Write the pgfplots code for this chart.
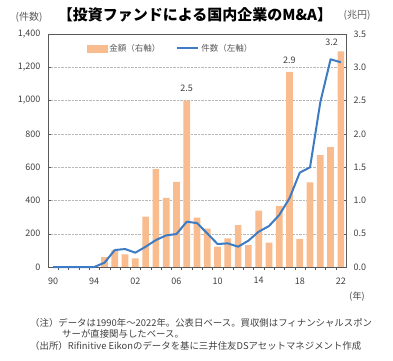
\documentclass[border=0pt]{standalone}
\usepackage{fontspec}
\setmainfont{Noto Sans CJK JP}
\usepackage{pgfplots}
\pgfplotsset{compat=1.18}
\definecolor{barc}{HTML}{F8BC8E}
\definecolor{linec}{HTML}{3D7CC4}
\definecolor{txt}{HTML}{404040}
\definecolor{axc}{HTML}{595959}
\begin{document}
\begin{tikzpicture}
\useasboundingbox (0pt,0pt) rectangle (393pt,360pt);
\begin{axis}[at={(48pt,93pt)}, anchor=south west, scale only axis,
  width=298pt, height=233pt,
  xmin=-0.5, xmax=28.5, ymin=0, ymax=3.5,
  axis line style={axc, line width=0.8pt},
  ytick={0,0.5,...,3.5},
  yticklabels={0.0,0.5,1.0,1.5,2.0,2.5,3.0,3.5},
  yticklabel pos=right, ytick pos=right,
  ymajorgrids, grid style={densely dotted, gray!55},
  xtick={0,4,...,28},
  xticklabels={90,94,02,06,10,14,18,22},
  xtick pos=bottom,
  major x tick style={draw=none},
  minor xtick={0.5,1.5,...,27.5},
  minor tick length=3pt, major tick length=3pt,
  tick style={axc},
  tick label style={font=\fontsize{9}{9}\selectfont, text=txt},
  xticklabel style={yshift=-4pt},
  yticklabel style={xshift=4pt},
  ybar, bar width=6.7pt, bar shift=0pt,
  clip=false]
\addplot[fill=barc, draw=none] coordinates {
(0,0)(1,0)(2,0)(3,0)(4,0)(5,0.15)(6,0.255)(7,0.19)(8,0.13)(9,0.755)
(10,1.47)(11,1.04)(12,1.28)(13,2.5)(14,0.74)(15,0.575)(16,0.305)(17,0.43)
(18,0.63)(19,0.33)(20,0.846)(21,0.365)(22,0.92)(23,2.93)(24,0.42)(25,1.27)
(26,1.68)(27,1.80)(28,3.24)};
\node[font=\fontsize{9}{9}\selectfont, text=txt] at (axis cs:13,2.69) {2.5};
\node[font=\fontsize{9}{9}\selectfont, text=txt] at (axis cs:23,3.11) {2.9};
\node[font=\fontsize{9}{9}\selectfont, text=txt] at (axis cs:27.1,3.38) {3.2};
\end{axis}
\begin{axis}[at={(48pt,93pt)}, anchor=south west, scale only axis,
  width=298pt, height=233pt,
  xmin=-0.5, xmax=28.5, ymin=0, ymax=1400,
  xtick=\empty,
  axis line style={axc, line width=0.8pt},
  ytick={0,200,...,1400},
  yticklabels={0,200,400,600,800,{1,000},{1,200},{1,400}},
  ytick pos=left, major tick length=3pt,
  tick style={axc},
  tick label style={font=\fontsize{9}{9}\selectfont, text=txt},
  yticklabel style={xshift=-4pt},
  legend columns=2,
  legend style={at={(0.12,0.975)}, anchor=north west, draw=none, fill=none,
    font=\fontsize{8.5}{8.5}\selectfont, text=axc,
    /tikz/every even column/.append style={column sep=14pt}},
  clip=false]
\addlegendimage{legend image code/.code={\fill[barc] (0pt,-3.5pt) rectangle (20pt,3.5pt);}}
\addlegendentry{金額（右軸）}
\addplot[linec, line width=2pt, mark=none, line join=round,
  legend image code/.code={\draw[linec, line width=2pt] (0pt,0pt) -- (21pt,0pt);}]
coordinates {(0,0)(1,0)(2,0)(3,0)(4,0)(5,26)(6,102)(7,108)(8,86)(9,122)(10,162)
(11,190)(12,198)(13,272)(14,264)(15,202)(16,138)(17,142)(18,122)(19,158)(20,212)
(21,246)(22,312)(23,413)(24,567)(25,599)(26,990)(27,1248)(28,1230)};
\addlegendentry{件数（左軸）}
\end{axis}
\node[font=\fontsize{15}{15}\selectfont\bfseries] at (195pt,345pt) {【投資ファンドによる国内企業のM\&A】};
\node[font=\fontsize{10}{10}\selectfont, text=axc] at (29pt,343pt) {(件数)};
\node[font=\fontsize{10}{10}\selectfont, text=axc] at (357pt,345pt) {(兆円)};
\node[font=\fontsize{9}{9}\selectfont, text=txt] at (357pt,63pt) {(年)};
\node[anchor=west, font=\fontsize{9.4}{9.4}\selectfont, text=txt, inner sep=0pt] at (30pt,37pt) {（注）データは1990年～2022年。公表日ベース。買収側はフィナンシャルスポン};
\node[anchor=west, font=\fontsize{9.4}{9.4}\selectfont, text=txt, inner sep=0pt] at (62pt,26pt) {サーが直接関与したベース。};
\node[anchor=west, font=\fontsize{9.4}{9.4}\selectfont, text=txt, inner sep=0pt] at (30pt,14pt) {（出所）Rifinitive Eikonのデータを基に三井住友DSアセットマネジメント作成};
\end{tikzpicture}
\end{document}
